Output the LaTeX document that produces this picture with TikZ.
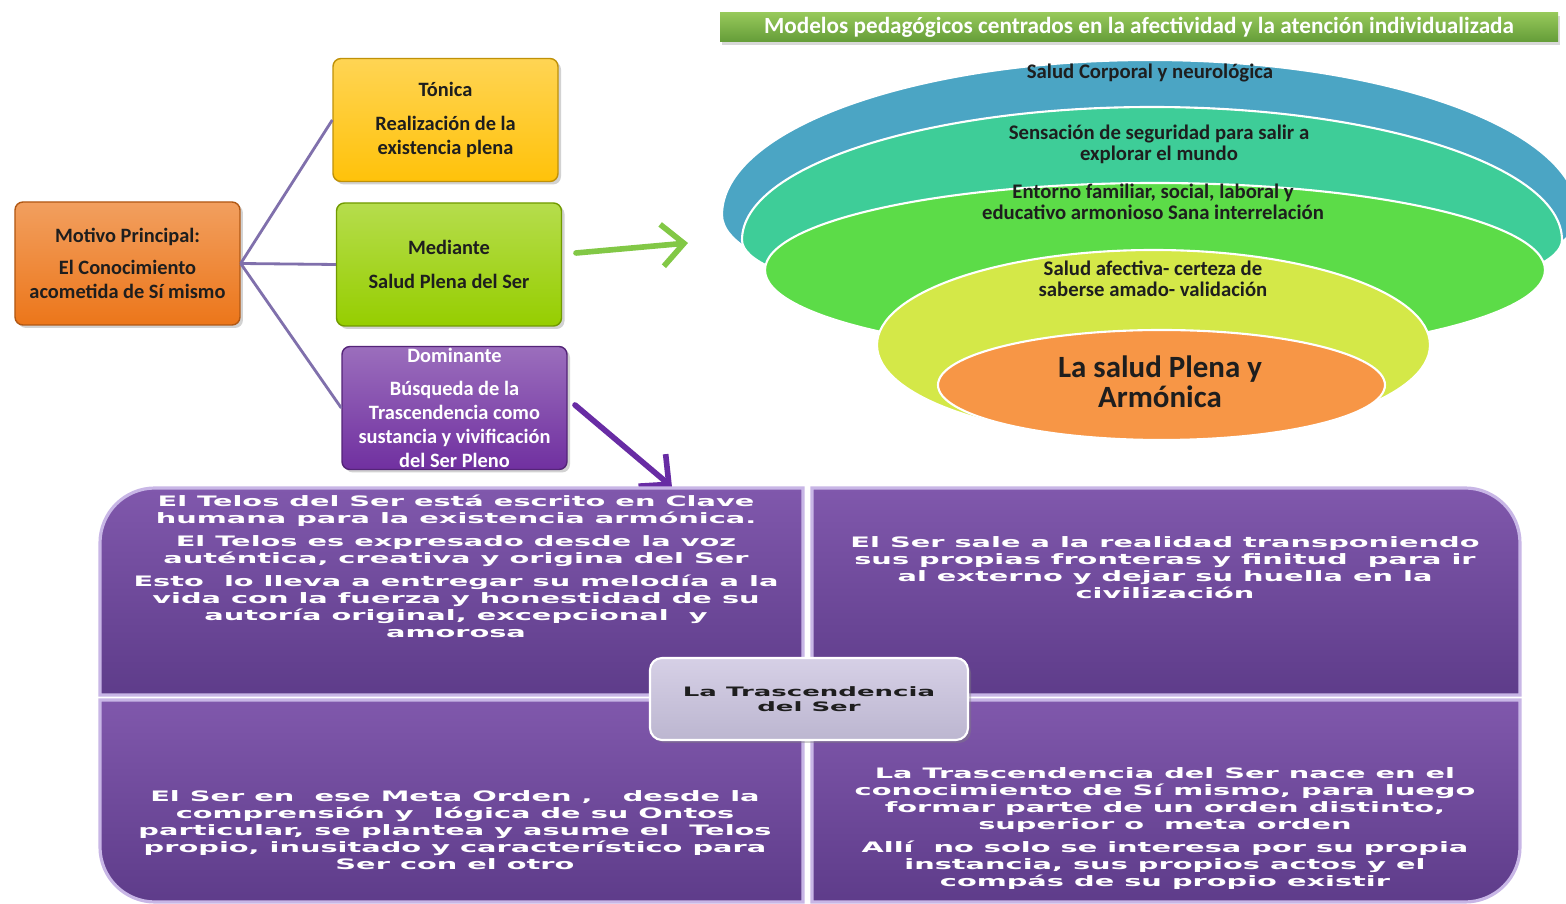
\documentclass[tikz,border=0pt]{standalone}
\usepackage{fontspec}
\setmainfont{Carlito}
\newfontfamily\widesans[FakeStretch=2.0]{DejaVu Sans}
\usepackage{tikz}
\usetikzlibrary{arrows.meta,positioning,shadows}

\definecolor{orangebox}{RGB}{236,118,26}
\definecolor{yellowbox}{RGB}{255,194,10}
\definecolor{greenbox}{RGB}{150,206,0}
\definecolor{purplebox}{RGB}{112,48,160}
\definecolor{txtdark}{RGB}{30,30,30}
\definecolor{linkc}{RGB}{128,112,172}
\definecolor{arrowgreen}{RGB}{130,200,70}
\definecolor{arrowpurple}{RGB}{104,44,164}
\definecolor{bannertop}{RGB}{150,200,90}
\definecolor{bannerbot}{RGB}{100,156,56}
\definecolor{ringblue}{RGB}{75,165,196}
\definecolor{ringteal}{RGB}{62,205,152}
\definecolor{ringgreen}{RGB}{92,220,72}
\definecolor{ringlime}{RGB}{212,232,72}
\definecolor{ringorange}{RGB}{247,150,70}
\definecolor{quadtop}{RGB}{128,88,172}
\definecolor{quadbot}{RGB}{94,60,138}
\definecolor{lav}{RGB}{200,182,230}
\definecolor{centtop}{RGB}{214,208,230}
\definecolor{centbot}{RGB}{188,182,208}

\begin{document}
\begin{tikzpicture}[
  box/.style={draw=#1!75!black,rounded corners=0.08cm,minimum width=2.25cm,minimum height=1.23cm,
    inner sep=0pt,align=center,font=\fontsize{5.8}{6.8}\selectfont\bfseries,text=txtdark,
    top color=#1!70!white,bottom color=#1,drop shadow={shadow xshift=0.03cm,shadow yshift=-0.03cm,opacity=0.35}},
  link/.style={draw=linkc,line width=0.8pt},
  bigarrow/.style={line width=1.6pt,line cap=round,-{Straight Barb[length=2.2mm,width=4.2mm,line width=1.6pt]}},
  ring/.style={draw=white,line width=0.6pt},
  ringtxt/.style={font=\fontsize{5.9}{6.1}\selectfont\bfseries,text=txtdark,align=center,inner sep=0pt},
  quad/.style={draw=lav,line width=0.9pt,top color=quadtop,bottom color=quadbot},
  quadtxt/.style={font=\widesans\bfseries\fontsize{4.1}{4.84}\selectfont,text=white,align=center,inner sep=0pt}
]
\useasboundingbox (0,0) rectangle (15.66,-9.04);
\fill[white] (0,0) rectangle (15.66,-9.04);

\node[box=orangebox] (motivo) at (1.275,-2.635) {Motivo Principal:\\[2.5pt]El Conocimiento\\acometida de Sí mismo};
\node[box=yellowbox] (tonica) at (4.455,-1.20) {Tónica\\[2.8pt]Realización de la\\existencia plena};
\node[box=greenbox] (mediante) at (4.49,-2.645) {Mediante\\[2.8pt]Salud Plena del Ser};
\node[box=purplebox,text=white] (dominante) at (4.545,-4.08) {Dominante\\[2.6pt]Búsqueda de la\\Trascendencia como\\sustancia y vivificación\\del Ser Pleno};
\draw[link] (motivo.east) -- (tonica.west);
\draw[link] (motivo.east) -- (mediante.west);
\draw[link] (motivo.east) -- (dominante.west);

\coordinate (ga) at (5.76,-2.53);
\coordinate (gb) at (6.88,-2.43);
\draw[bigarrow,draw=arrowgreen] (ga) -- (gb);
\coordinate (pa) at (5.75,-4.05);
\coordinate (pb) at (6.72,-4.87);
\draw[bigarrow,draw=arrowpurple] (pa) -- (pb);

\node[top color=bannertop,bottom color=bannerbot,minimum width=8.38cm,minimum height=0.29cm,inner sep=0pt,
  text=white,font=\fontsize{6.6}{7}\selectfont\bfseries,drop shadow={shadow xshift=0.02cm,shadow yshift=-0.03cm,opacity=0.3}]
  (banner) at (11.39,-0.275) {Modelos pedagógicos centrados en la afectividad y la atención individualizada};

\path[ring,fill=ringblue] (7.22,-2.15) arc[start angle=180,end angle=0,x radius=4.28,y radius=1.55]
  arc[start angle=0,end angle=-180,x radius=4.28,y radius=1.0] -- cycle;
\path[ring,fill=ringteal] (7.42,-2.40) arc[start angle=180,end angle=0,x radius=4.10,y radius=1.33]
  arc[start angle=0,end angle=-180,x radius=4.10,y radius=0.75] -- cycle;
\fill[ring,fill=ringgreen] (11.55,-2.70) ellipse [x radius=3.90,y radius=0.87];
\fill[ring,fill=ringlime] (11.535,-3.45) ellipse [x radius=2.765,y radius=0.95];
\fill[ring,fill=ringorange] (11.615,-3.85) ellipse [x radius=2.235,y radius=0.55];

\node[ringtxt] (corporal) at (11.50,-0.73) {Salud Corporal y neurológica};
\node[ringtxt] (seguridad) at (11.59,-1.445) {Sensación de seguridad para salir a\\explorar el mundo};
\node[ringtxt] (entorno) at (11.53,-2.02) {Entorno familiar, social, laboral y\\educativo armonioso Sana interrelación};
\node[ringtxt] (afectiva) at (11.53,-2.79) {Salud afectiva- certeza de\\saberse amado- validación};
\node[ringtxt,font=\fontsize{8.8}{8.6}\selectfont\bfseries] (plena) at (11.60,-3.82) {La salud Plena y\\Armónica};

\path[quad] (1.00,-6.95) -- (1.00,-5.43) arc[start angle=180,end angle=90,radius=0.55] -- (8.03,-4.88) -- (8.03,-6.95) -- cycle;
\path[quad] (8.12,-6.95) -- (8.12,-4.88) -- (14.65,-4.88) arc[start angle=90,end angle=0,radius=0.55] -- (15.20,-6.95) -- cycle;
\path[quad] (1.00,-7.00) -- (8.03,-7.00) -- (8.03,-9.02) -- (1.55,-9.02) arc[start angle=270,end angle=180,radius=0.55] -- cycle;
\path[quad] (8.12,-7.00) -- (15.20,-7.00) -- (15.20,-8.47) arc[start angle=0,end angle=-90,radius=0.55] -- (8.12,-9.02) -- cycle;

\node[quadtxt] (telos) at (4.56,-5.66) {El Telos del Ser está escrito en Clave\\humana para la existencia armónica.\\[1.7pt]El Telos es expresado desde la voz\\auténtica, creativa y origina del Ser\\[1.7pt]Esto~ lo lleva a entregar su melodía a la\\vida con la fuerza y honestidad de su\\autoría original, excepcional~ y\\amorosa};
\node[quadtxt] (sale) at (11.65,-5.675) {El Ser sale a la realidad transponiendo\\sus propias fronteras y finitud~ para ir\\al externo y dejar su huella en la\\civilización};
\node[quadtxt] (meta) at (4.55,-8.30) {El Ser en~ ese Meta Orden ,~~ desde la\\comprensión y~ lógica de su Ontos\\particular, se plantea y asume el~ Telos\\propio, inusitado y característico para\\Ser con el otro};
\node[quadtxt] (nace) at (11.65,-8.29) {La Trascendencia del Ser nace en el\\conocimiento de Sí mismo, para luego\\formar parte de un orden distinto,\\superior o~ meta orden\\[1.7pt]Allí~ no solo se interesa por su propia\\instancia, sus propios actos y el\\compás de su propio existir};

\node[draw=white,line width=0.6pt,rounded corners=0.12cm,top color=centtop,bottom color=centbot,
  minimum width=3.18cm,minimum height=0.82cm,inner sep=0pt,align=center,text=txtdark,
  font=\widesans\bfseries\fontsize{3.7}{4.4}\selectfont,
  drop shadow={shadow xshift=0.03cm,shadow yshift=-0.03cm,opacity=0.4}] (trasc) at (8.09,-6.99) {La Trascendencia\\del Ser};
\end{tikzpicture}
\end{document}
